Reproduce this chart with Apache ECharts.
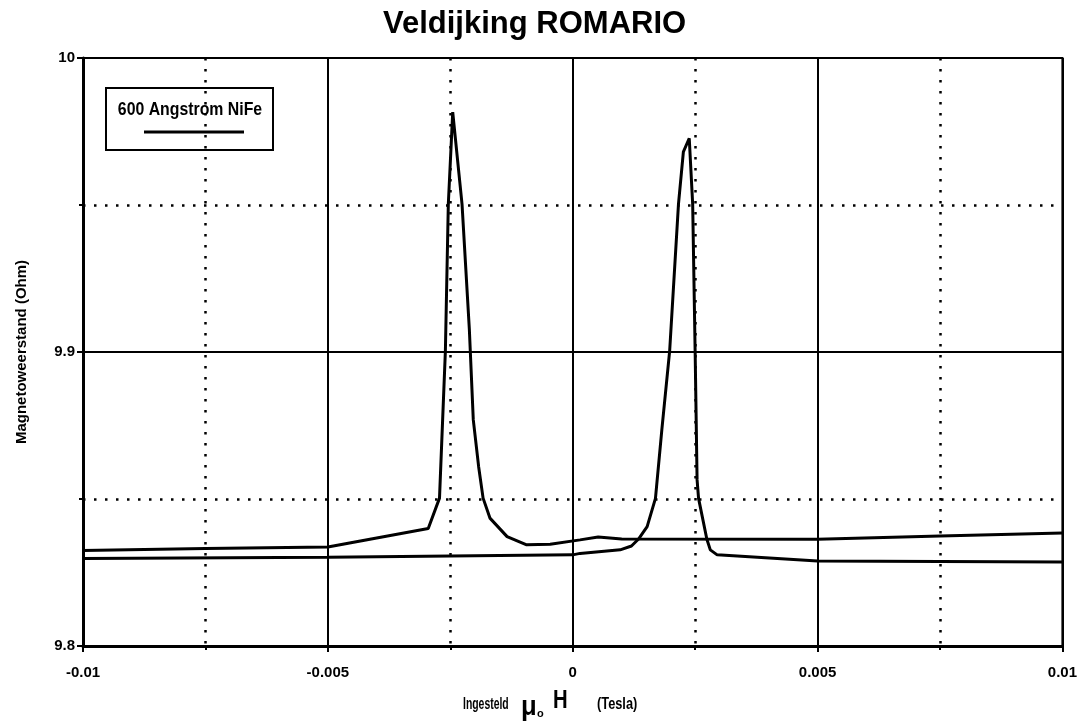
<!DOCTYPE html>
<html><head><meta charset="utf-8">
<script src="https://cdn.jsdelivr.net/npm/echarts@6/dist/echarts.min.js"></script>
<style>html,body{margin:0;padding:0;background:#fff}#c{width:1080px;height:722px}</style>
</head><body><div id="c"></div>
<script>
const titleText = 'Veldijking ROMARIO';
const legendLabel = '600 Angstrom NiFe';
const yAxisTitle = 'Magnetoweerstand (Ohm)';
const xAxisParts = ['Ingesteld', 'μ', 'o', 'H', '(Tesla)'];
const xTickLabels = ['-0.01', '-0.005', '0', '0.005', '0.01'];
const yTickLabels = ['9.8', '9.9', '10'];

// Branch with peak at negative field (Tesla, Ohm)
const branchAField = [-0.01, -0.0075, -0.005, -0.00295, -0.00272, -0.00260, -0.00254, -0.00245, -0.00226, -0.00211, -0.00203, -0.00192, -0.00183, -0.00169, -0.00134, -0.00094, -0.00046, 0.00015, 0.00052, 0.0010, 0.005, 0.0075, 0.01];
const branchAR = [9.8325, 9.8332, 9.8337, 9.8400, 9.8503, 9.9003, 9.9503, 9.9816, 9.9503, 9.9075, 9.8769, 9.8609, 9.8503, 9.8435, 9.8372, 9.8344, 9.8346, 9.8361, 9.8371, 9.8364, 9.8363, 9.8374, 9.8384];

// Branch with peak at positive field
const branchBField = [-0.01, -0.005, 0, 0.00015, 0.00097, 0.00120, 0.00134, 0.00152, 0.00169, 0.00182, 0.00198, 0.00216, 0.00226, 0.00238, 0.00245, 0.0025, 0.00254, 0.00257, 0.00274, 0.00281, 0.00295, 0.005, 0.01];
const branchBR = [9.8298, 9.8302, 9.8310, 9.8315, 9.8327, 9.8340, 9.8363, 9.8406, 9.8502, 9.8735, 9.9004, 9.9503, 9.9681, 9.9727, 9.9503, 9.9005, 9.8565, 9.8502, 9.8363, 9.8327, 9.8310, 9.8289, 9.8286];

const FONT = "'Liberation Sans',Arial,Helvetica,sans-serif";
const pairs = (xs, ys) => xs.map((x, i) => [x, ys[i]]);

const chart = echarts.init(document.getElementById('c'), null, {renderer: 'canvas'});
// dotted lines only on the in-between positions (transparent on the solid-grid positions)
const dotted = {color: ['rgba(0,0,0,0)', '#000'], width: 2.5, type: [2.5, 8.5], cap: 'butt'};
const txt = (text, x, y, size, sx, extra) => Object.assign({type: 'text', x: x, y: y, scaleX: sx,
  style: {text: text, fontFamily: FONT, fontWeight: 'bold', fontSize: size, fill: '#000', verticalAlign: 'middle'}}, extra || {});
chart.setOption({
  animation: false,
  backgroundColor: '#fff',
  title: {
    text: titleText, left: 378, top: 4,
    textStyle: {fontFamily: FONT, fontWeight: 'bold', fontSize: 31, color: '#000'}
  },
  grid: {left: 83, right: 17, top: 58, bottom: 76, show: true, borderColor: '#000', borderWidth: 2},
  xAxis: [{
    type: 'value', min: -0.01, max: 0.01, interval: 0.005,
    axisLine: {show: true, onZero: false, lineStyle: {color: '#000', width: 3}},
    axisTick: {show: true, length: 6, lineStyle: {color: '#000', width: 2}},
    axisLabel: {color: '#000', fontFamily: FONT, fontWeight: 'bold', fontSize: 15, margin: 19,
      formatter: (v, i) => xTickLabels[i]},
    splitLine: {show: true, lineStyle: {color: '#000', width: 2}}
  }, {
    type: 'value', min: -0.01, max: 0.01, interval: 0.0025, position: 'bottom',
    axisLine: {show: false, onZero: false},
    axisTick: {show: true, length: 4, lineStyle: {color: '#000', width: 2}},
    axisLabel: {show: false},
    splitLine: {show: true, lineStyle: dotted}
  }],
  yAxis: [{
    type: 'value', min: 9.8, max: 10, interval: 0.1,
    axisLine: {show: true, onZero: false, lineStyle: {color: '#000', width: 3}},
    axisTick: {show: true, length: 6, lineStyle: {color: '#000', width: 2}},
    axisLabel: {color: '#000', fontFamily: FONT, fontWeight: 'bold', fontSize: 15, margin: 8,
      formatter: (v, i) => yTickLabels[i]},
    splitLine: {show: true, lineStyle: {color: '#000', width: 2}},
    name: yAxisTitle, nameLocation: 'middle', nameGap: 54, nameRotate: 90,
    nameTextStyle: {fontFamily: FONT, fontWeight: 'bold', fontSize: 15, color: '#000'}
  }, {
    type: 'value', min: 9.8, max: 10, interval: 0.05, position: 'left',
    axisLine: {show: false, onZero: false},
    axisTick: {show: true, length: 4, lineStyle: {color: '#000', width: 2}},
    axisLabel: {show: false},
    splitLine: {show: true, lineStyle: dotted}
  }],
  graphic: [{
    type: 'group', left: 105, top: 87,
    children: [
      {type: 'rect', shape: {x: 0, y: 0, width: 167, height: 62}, style: {fill: '#fff', stroke: '#000', lineWidth: 2}},
      {type: 'text', x: 84, y: 22, scaleX: 0.88, style: {text: legendLabel, fontFamily: FONT, fontWeight: 'bold', fontSize: 18, fill: '#000', align: 'center', verticalAlign: 'middle'}},
      {type: 'line', shape: {x1: 38, y1: 44, x2: 138, y2: 44}, style: {stroke: '#000', lineWidth: 3}}
    ]
  },
  txt(xAxisParts[0], 463, 705, 16, 0.65),
  txt(xAxisParts[1], 521, 708, 27, 0.95),
  txt(xAxisParts[2], 537, 714, 11, 1),
  txt(xAxisParts[3], 553, 701, 26, 0.78),
  txt(xAxisParts[4], 597, 705, 16, 0.8)
  ],
  series: [{
    type: 'line', xAxisIndex: 0, yAxisIndex: 0, data: pairs(branchAField, branchAR),
    showSymbol: false, lineStyle: {color: '#000', width: 3}, z: 5
  }, {
    type: 'line', xAxisIndex: 0, yAxisIndex: 0, data: pairs(branchBField, branchBR),
    showSymbol: false, lineStyle: {color: '#000', width: 3}, z: 5
  }]
});
</script>
</body></html>
